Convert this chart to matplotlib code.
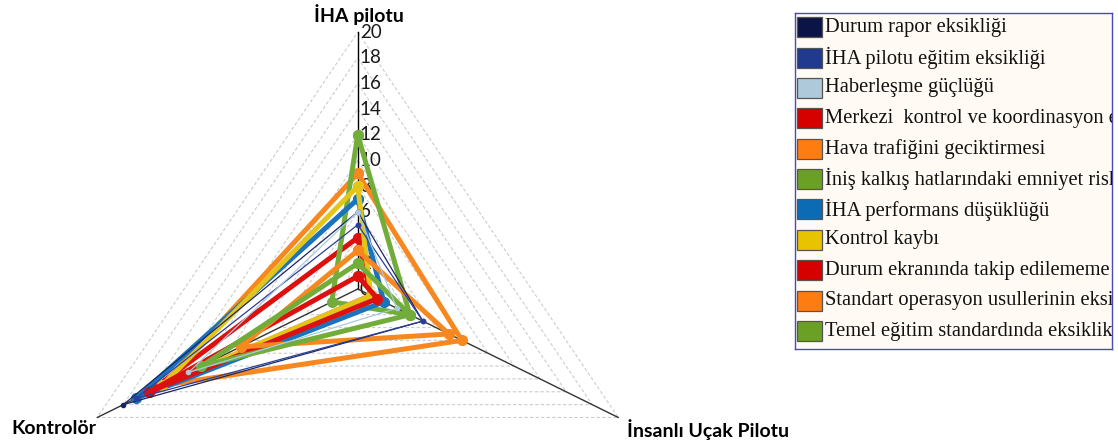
import numpy as np
import matplotlib.pyplot as plt
from matplotlib.patches import Rectangle

# radar axes (clockwise from top) and their values per series
axis_labels = ['İHA pilotu', 'İnsanlı Uçak Pilotu', 'Kontrolör']
series_names = [
    'Durum rapor eksikliği',
    'İHA pilotu eğitim eksikliği',
    'Haberleşme güçlüğü',
    'Merkezi  kontrol ve koordinasyon eksikliği',
    'Hava trafiğini geciktirmesi',
    'İniş kalkış hatlarındaki emniyet riski',
    'İHA performans düşüklüğü',
    'Kontrol kaybı',
    'Durum ekranında takip edilememe',
    'Standart operasyon usullerinin eksikliği',
    'Temel eğitim standardında eksiklik',
]
iha_pilotu = [6, 5, 6, 4, 9, 12, 7, 8, 1, 3, 2]
insanli_pilot = [5, 5, 3, 1, 8, 4, 2, 1, 1.5, 7, 4]
kontrolor = [18, 17, 13, 16, 15, 2, 17, 15, 16, 9, 12]
ticks = list(range(0, 21, 2))

legend_colors = ['#0b1446', '#1f3a8f', '#adc9da', '#d60000', '#ff7c10', '#6aa023',
                 '#0b6cb5', '#e8c300', '#d60000', '#ff7c10', '#6aa023']
line_colors = ['#1a2660', '#2a3f9a', '#a9c9dc', '#dd1010', '#f7871f', '#72ad3c',
               '#1a73bd', '#e3c51a', '#dd1010', '#f7871f', '#72ad3c']
thin = [True, True, True] + [False] * 8

angles = np.radians([90, -30, 210])
closed = np.append(angles, angles[0])

fig = plt.figure(figsize=(11.18, 4.46), dpi=100)
ax = fig.add_axes([0.051, -0.224, 0.538, 1.152], projection='polar')
ax.set_aspect('auto')
ax.set_ylim(0, 20)
ax.set_axis_off()

# triangular grid
for r in ticks[1:]:
    ax.plot(closed, [r] * 4, color='#cccccc', lw=0.8, ls=(0, (3, 2)),
            zorder=1, clip_on=False)
# spokes
for a, c in zip(angles, ['#000000', '#333333', '#333333']):
    ax.plot([a, a], [0, 20], color=c, lw=1.0, zorder=1.5, clip_on=False)

for r in ticks:
    ax.annotate(str(r), xy=(np.pi / 2, r), xytext=(1.5, 0), textcoords='offset points',
                ha='left', va='center', fontsize=13.5, family='Lato', color='#1a1a1a',
                zorder=1.2)

ax.annotate(axis_labels[0], xy=(angles[0], 20), xytext=(1, 5), textcoords='offset points',
            ha='center', va='bottom', fontsize=14, fontweight='bold', family='Lato')
ax.annotate(axis_labels[1], xy=(angles[1], 20), xytext=(6, -1), textcoords='offset points',
            ha='left', va='top', fontsize=14, fontweight='bold', family='Lato')
ax.annotate(axis_labels[2], xy=(angles[2], 20), xytext=(-1, -2), textcoords='offset points',
            ha='right', va='top', fontsize=14, fontweight='bold', family='Lato')

for i in range(len(series_names)):
    vals = [iha_pilotu[i], insanli_pilot[i], kontrolor[i]]
    vals = vals + vals[:1]
    if thin[i]:
        ax.plot(closed, vals, color=line_colors[i], lw=0.9, marker='o', ms=3,
                zorder=3, clip_on=False)
    else:
        ax.plot(closed, vals, color=line_colors[i], lw=3.6, marker='o', ms=7,
                zorder=2 + i * 0.01, clip_on=False, solid_joinstyle='round')

# legend box, cut off at the right edge like the original
lax = fig.add_axes([0.711, 0.2175, 0.2835, 0.753])
lax.set_xlim(0, 317)
lax.set_ylim(336, 0)
lax.set_xticks([])
lax.set_yticks([])
lax.set_facecolor('#fffaf3')
for s in lax.spines.values():
    s.set_color('#4a4ab8')
    s.set_linewidth(1.0)
for i, name in enumerate(series_names):
    yc = 14 + i * 30.4
    lax.add_patch(Rectangle((2, yc - 10), 25, 20, facecolor=legend_colors[i],
                            edgecolor='#555555', lw=0.9))
    lax.text(30, yc, name, ha='left', va='center', fontsize=14.8,
             family='Liberation Serif', color='#111111', clip_on=True)

fig.savefig('out.png', dpi=100)
